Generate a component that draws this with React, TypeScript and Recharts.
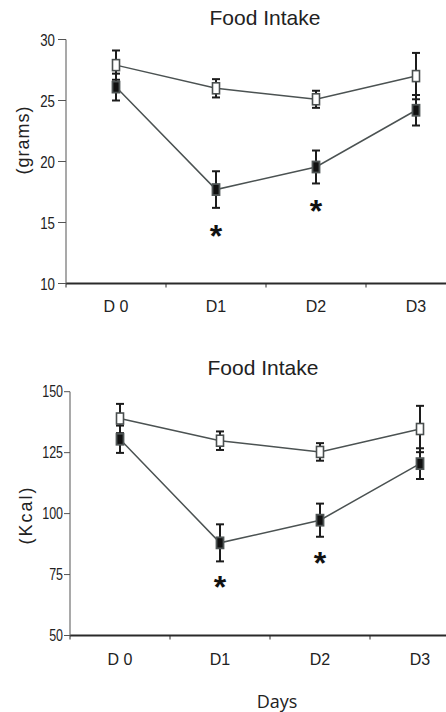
import React from 'react';
import { ComposedChart, Line, XAxis, YAxis, ErrorBar, Scatter } from 'recharts';

const dayLabels = ['D 0', 'D1', 'D2', 'D3'];
const dayPositions = [0.5, 1.5, 2.5, 3.5];
const dayBoundaries = [0, 1, 2, 3];

const gramsControl = [27.9, 26.0, 25.1, 27.0];
const gramsControlErr = [1.2, 0.75, 0.7, 1.9];
const gramsTreated = [26.1, 17.7, 19.55, 24.2];
const gramsTreatedErr = [1.1, 1.5, 1.35, 1.25];
const gramsTicks = [10, 15, 20, 25, 30];
const gramsStars: (number | null)[] = [null, 14.5, 16.5, null];

const kcalControl = [139, 129.9, 125.3, 134.7];
const kcalControlErr = [6, 3.8, 3.6, 9.5];
const kcalTreated = [130.5, 88, 97.3, 120.5];
const kcalTreatedErr = [5.6, 7.6, 6.8, 6.3];
const kcalTicks = [50, 75, 100, 125, 150];
const kcalStars: (number | null)[] = [null, 72.6, 82.5, null];

function buildRows(ctrl: number[], ctrlErr: number[], trt: number[], trtErr: number[]) {
  return dayPositions.map((x, i) => ({
    x,
    ctrl: ctrl[i],
    ctrlErr: ctrlErr[i],
    trt: trt[i],
    trtErr: trtErr[i],
  }));
}

function buildStars(stars: (number | null)[]) {
  return dayPositions
    .map((x, i) => ({ x, star: stars[i] }))
    .filter((d) => d.star != null);
}

const LINE = '#4b5252';
const ERR = '#1c1c1c';

const OpenBox = (p: any) => {
  if (p.cx == null || p.cy == null) return <g key={p.key} />;
  return (
    <rect key={p.key} x={p.cx - 3.5} y={p.cy - 5.5} width={7} height={11}
      fill="#ffffff" stroke="#4a4f4f" strokeWidth={1.6} />
  );
};

const FilledBox = (p: any) => {
  if (p.cx == null || p.cy == null) return <g key={p.key} />;
  return (
    <rect key={p.key} x={p.cx - 3.5} y={p.cy - 5.5} width={7} height={11}
      fill="#111111" stroke="#4f5555" strokeWidth={1.8} />
  );
};

const Star = (p: any) => {
  if (p.cx == null || p.cy == null) return <g />;
  return (
    <text x={p.cx} y={p.cy + 18} textAnchor="middle" fontSize={32} fontWeight="bold"
      fontFamily="'Liberation Sans', Arial, sans-serif" fill="#111">*</text>
  );
};

const NarrowTick = (p: any) => {
  const { x, y, payload, fontSize } = p;
  return (
    <g transform={`translate(${x},${y})`}>
      <text x={0} y={0} dy="0.36em" textAnchor="end" fontSize={fontSize} fill="#222"
        fontFamily="'Liberation Sans', Arial, sans-serif" transform="scale(0.78,1)">
        {payload.value}
      </text>
    </g>
  );
};

type PanelProps = {
  top: number;
  height: number;
  margin: { top: number; right: number; bottom: number; left: number };
  xMax: number;
  yDomain: [number, number];
  yTicks: number[];
  yTickSize: number;
  yTickMargin: number;
  yFont: number;
  labelMargin: number;
  rows: any[];
  stars: any[];
};

function Panel(props: PanelProps) {
  const { top, height, margin, xMax, yDomain, yTicks, rows, stars } = props;
  return (
    <div style={{ position: 'absolute', left: 0, top, width: 446, height }}>
      <ComposedChart width={446} height={height} data={rows} margin={margin}>
        <XAxis xAxisId="a" type="number" dataKey="x" domain={[0, xMax]} ticks={dayBoundaries}
          tickFormatter={() => ''} tickSize={4} height={6} interval={0} allowDataOverflow
          axisLine={{ stroke: '#2a2a2a', strokeWidth: 2 }} tickLine={{ stroke: '#2a2a2a', strokeWidth: 1 }} />
        <XAxis xAxisId="b" type="number" dataKey="x" domain={[0, xMax]} ticks={dayPositions}
          tickFormatter={(v: number) => dayLabels[dayPositions.indexOf(v)]}
          axisLine={false} tickLine={false} tickSize={0} tickMargin={props.labelMargin} height={24}
          interval={0} allowDataOverflow
          tick={{ fill: '#222', fontSize: 16, fontFamily: "'Liberation Sans', Arial, sans-serif" }} />
        <YAxis type="number" domain={yDomain} ticks={yTicks} interval={0} width={40}
          tickSize={props.yTickSize} tickMargin={props.yTickMargin}
          axisLine={{ stroke: '#707070', strokeWidth: 1.2 }} tickLine={{ stroke: '#555', strokeWidth: 1 }}
          tick={(p: any) => <NarrowTick {...p} fontSize={props.yFont} />} />
        <Line xAxisId="b" type="linear" dataKey="trt" stroke={LINE} strokeWidth={1.5}
          dot={(p: any) => <FilledBox {...p} />} activeDot={false} isAnimationActive={false}>
          <ErrorBar dataKey="trtErr" direction="y" width={4} stroke={ERR} strokeWidth={2} />
        </Line>
        <Line xAxisId="b" type="linear" dataKey="ctrl" stroke={LINE} strokeWidth={1.5}
          dot={(p: any) => <OpenBox {...p} />} activeDot={false} isAnimationActive={false}>
          <ErrorBar dataKey="ctrlErr" direction="y" width={4} stroke={ERR} strokeWidth={2} />
        </Line>
        <Scatter xAxisId="b" data={stars} dataKey="star" shape={(p: any) => <Star {...p} />}
          isAnimationActive={false} />
      </ComposedChart>
    </div>
  );
}

const textBase: React.CSSProperties = {
  position: 'absolute',
  whiteSpace: 'nowrap',
  lineHeight: 1,
  color: '#222',
};

export default function App() {
  const gramsRows = buildRows(gramsControl, gramsControlErr, gramsTreated, gramsTreatedErr);
  const kcalRows = buildRows(kcalControl, kcalControlErr, kcalTreated, kcalTreatedErr);
  return (
    <div style={{ position: 'absolute', left: 0, top: 0, width: 446, height: 712, background: '#fff', overflow: 'hidden' }}>
      <Panel top={0} height={320} margin={{ top: 39.5, right: 0, bottom: 6.5, left: 26 }} xMax={3.8}
        yDomain={[10, 30]} yTicks={gramsTicks} yTickSize={8} yTickMargin={3} yFont={17} labelMargin={11.5}
        rows={gramsRows} stars={buildStars(gramsStars)} />
      <Panel top={320} height={392} margin={{ top: 71.7, right: 0, bottom: 46.5, left: 30 }} xMax={3.76}
        yDomain={[50, 150]} yTicks={kcalTicks} yTickSize={6} yTickMargin={1} yFont={16} labelMargin={12.5}
        rows={kcalRows} stars={buildStars(kcalStars)} />
      <div style={{ ...textBase, left: 265, top: 17, transform: 'translate(-50%, -50%)', fontSize: 21, fontFamily: "'Liberation Sans', Arial, sans-serif" }}>Food Intake</div>
      <div style={{ ...textBase, left: 263, top: 367, transform: 'translate(-50%, -50%)', fontSize: 21, fontFamily: "'Liberation Sans', Arial, sans-serif" }}>Food Intake</div>
      <div style={{ ...textBase, left: 23, top: 140, transform: 'translate(-50%, -50%) rotate(-90deg)', fontSize: 18, letterSpacing: 1, fontFamily: "'Liberation Sans', Arial, sans-serif" }}>(grams)</div>
      <div style={{ ...textBase, left: 26, top: 515, transform: 'translate(-50%, -50%) rotate(-90deg)', fontSize: 18, letterSpacing: 2, fontFamily: "'Liberation Sans', Arial, sans-serif" }}>(Kcal)</div>
      <div style={{ ...textBase, left: 277, top: 701, transform: 'translate(-50%, -50%)', fontSize: 18, fontFamily: "'Open Sans', sans-serif" }}>Days</div>
    </div>
  );
}
